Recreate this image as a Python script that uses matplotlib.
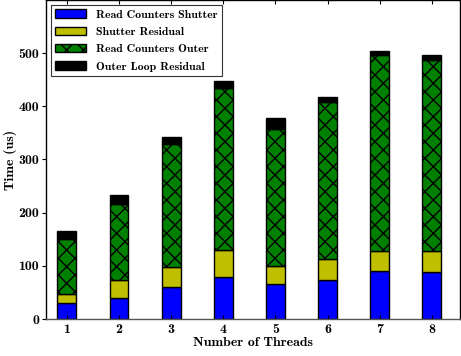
import numpy as np
import matplotlib.pyplot as plt

plt.rcParams['font.family'] = ['cmb10', 'DejaVu Serif']
plt.rcParams['axes.unicode_minus'] = False
plt.rcParams['hatch.linewidth'] = 1.0

# timings per thread count (us), cumulative tops of each stacked segment
threads = [1, 2, 3, 4, 5, 6, 7, 8]
read_shutter = [30, 39, 60, 79, 65, 73, 91, 88]
shutter_top = [47, 73, 98, 129, 100, 112, 128, 128]
outer_top = [151, 217, 330, 435, 358, 409, 497, 487]
total = [166, 234, 342, 448, 378, 417, 505, 496]

x = np.array(threads)
read_shutter = np.array(read_shutter)
shutter_res = np.array(shutter_top) - read_shutter
read_outer = np.array(outer_top) - np.array(shutter_top)
outer_res = np.array(total) - np.array(outer_top)

fig = plt.figure(figsize=(4.61, 3.56), dpi=100)
ax = fig.add_axes([46 / 461, 37 / 356, 414 / 461, 319 / 356])

w = 0.36
ax.bar(x, read_shutter, w, color='#0000ff', edgecolor='k', lw=1,
       label='Read Counters Shutter')
ax.bar(x, shutter_res, w, bottom=read_shutter, color='#bfbf00',
       edgecolor='k', lw=1, label='Shutter Residual')
ax.bar(x, read_outer, w, bottom=read_shutter + shutter_res, color='#008000',
       edgecolor='k', lw=1, hatch='xx', label='Read Counters Outer')
ax.bar(x, outer_res, w, bottom=read_shutter + shutter_res + read_outer,
       color='k', edgecolor='k', lw=1, label='Outer Loop Residual')

ax.set_xlim(0.6, 8.54)
ax.set_ylim(0, 600)
ax.set_xticks(threads)
ax.set_yticks([0, 100, 200, 300, 400, 500])
ax.tick_params(labelsize=10, length=3)
ax.tick_params(axis='y', direction='out', pad=2)
ax.tick_params(axis='x', direction='in', top=True)
ax.tick_params(axis='y', which='both', right=True)
for s in ax.spines.values():
    s.set_linewidth(1.0)
ax.spines['bottom'].set_color('#555555')

ax.set_xlabel('Number of Threads', fontsize=10, labelpad=1)
ax.set_ylabel('Time (us)', fontsize=10, labelpad=1)

leg = ax.legend(loc='upper left', fontsize=8.5, fancybox=False,
                edgecolor='k', handlelength=2.6, borderaxespad=0.4,
                labelspacing=0.6)
leg.get_frame().set_linewidth(0.8)

fig.savefig('out.png', dpi=100)
